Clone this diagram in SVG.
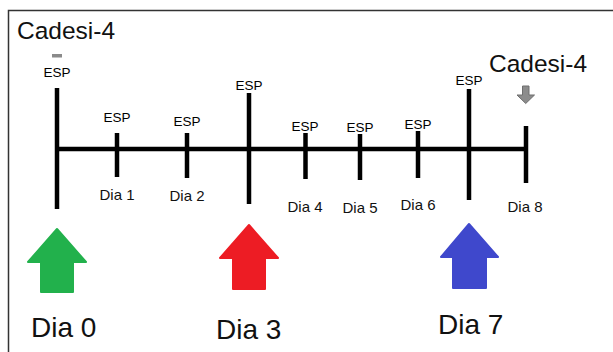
<svg xmlns="http://www.w3.org/2000/svg" width="613" height="352" viewBox="0 0 613 352">
<style>
.ax{stroke:#000;stroke-width:4.5;fill:none}
.frame{stroke:#333;stroke-width:1.5;fill:none}
.esp{font-family:"Liberation Sans",Arial,sans-serif;font-size:13.5px;text-anchor:middle;fill:#000}
.dia{font-family:"Liberation Sans",Arial,sans-serif;font-size:15px;text-anchor:middle;fill:#111}
.big{font-family:"Liberation Sans",Arial,sans-serif;font-size:28px;fill:#111}
.cad{font-family:"Liberation Sans",Arial,sans-serif;font-size:24.5px;fill:#111}
.arr{stroke-width:2;stroke-linejoin:round}
</style>
<rect width="613" height="352" fill="#fff"/>
<path class="frame" d="M8.5,352 V10.5 H613"/>
<g id="connectors">
<line class="ax" x1="57" y1="149" x2="526" y2="149"/>
</g>
<g id="day0">
<line class="ax" x1="57" y1="88" x2="57" y2="209"/>
<text class="cad" x="17" y="39">Cadesi-4</text>
<rect x="52" y="54" width="10" height="3.5" fill="#8a8a8a"/>
<text class="esp" x="57" y="77">ESP</text>
<path class="arr" d="M57,229 L86,262 L73,262 L73,292 L41,292 L41,262 L28,262 Z" fill="#22b14c" stroke="#22b14c"/>
<text class="big" x="31" y="337">Dia 0</text>
</g>
<g id="day1">
<line class="ax" x1="117" y1="133" x2="117" y2="177"/>
<text class="esp" x="117" y="122">ESP</text>
<text class="dia" x="117" y="200">Dia 1</text>
</g>
<g id="day2">
<line class="ax" x1="187" y1="133" x2="187" y2="178"/>
<text class="esp" x="187" y="126">ESP</text>
<text class="dia" x="187" y="201">Dia 2</text>
</g>
<g id="day3">
<line class="ax" x1="249" y1="93" x2="249" y2="204"/>
<text class="esp" x="249" y="90">ESP</text>
<path class="arr" d="M249,225 L278,258 L265,258 L265,289 L233,289 L233,258 L220,258 Z" fill="#ed1c24" stroke="#ed1c24"/>
<text class="big" x="216" y="339">Dia 3</text>
</g>
<g id="day4">
<line class="ax" x1="305.5" y1="133" x2="305.5" y2="179"/>
<text class="esp" x="305" y="131">ESP</text>
<text class="dia" x="305" y="212">Dia 4</text>
</g>
<g id="day5">
<line class="ax" x1="360" y1="134" x2="360" y2="180"/>
<text class="esp" x="360" y="132">ESP</text>
<text class="dia" x="360" y="213">Dia 5</text>
</g>
<g id="day6">
<line class="ax" x1="418" y1="131" x2="418" y2="178"/>
<text class="esp" x="418" y="129">ESP</text>
<text class="dia" x="418" y="210">Dia 6</text>
</g>
<g id="day7">
<line class="ax" x1="469" y1="89" x2="469" y2="200"/>
<text class="esp" x="469" y="85">ESP</text>
<path class="arr" d="M469,224 L498,257 L486,257 L486,288 L453,288 L453,257 L441,257 Z" fill="#3f48cc" stroke="#3f48cc"/>
<text class="big" x="438" y="334">Dia 7</text>
</g>
<g id="day8">
<line class="ax" x1="526" y1="126" x2="526" y2="183"/>
<text class="cad" x="489" y="72">Cadesi-4</text>
<path d="M522.5,86 L529,86 L529,95 L534.5,95 L525.75,103.5 L517,95 L522.5,95 Z" fill="#8c8c8c" stroke="#6e6e6e" stroke-width="1" stroke-linejoin="round"/>
<text class="dia" x="525" y="212">Dia 8</text>
</g>
</svg>
